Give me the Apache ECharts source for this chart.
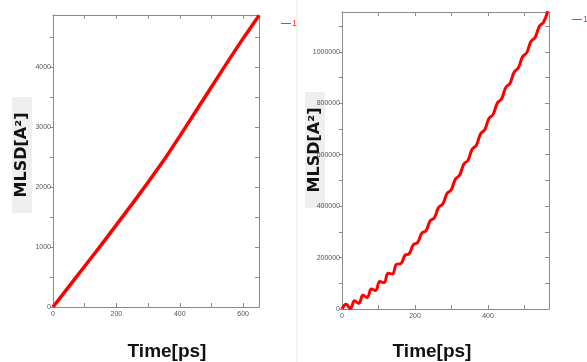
<!DOCTYPE html>
<html><head><meta charset="utf-8">
<script src="https://cdn.jsdelivr.net/npm/echarts@6/dist/echarts.min.js"></script>
<style>html,body{margin:0;padding:0;background:#fff}#c{width:587px;height:362px}</style>
</head><body><div id="c"></div>
<script>
// Left panel: MLSD vs time
const leftTime = [0, 50, 100, 150, 200, 250, 300, 350, 400, 450, 500, 550, 600, 650];
const leftMsd  = [0, 340, 680, 1020, 1370, 1720, 2080, 2450, 2850, 3260, 3670, 4080, 4480, 4860];
// Right panel: MLSD vs time (oscillating)
const rightTime = [0, 11.5, 23, 34.5, 46, 57.5, 69, 80.5, 92, 103.5, 115, 126.5, 138, 149.5, 161, 172.5, 184, 195.5, 207, 218.5, 230, 241.5, 253, 264.5, 276, 287.5, 299, 310.5, 322, 333.5, 345, 356.5, 368, 379.5, 391, 402.5, 414, 425.5, 437, 448.5, 460, 471.5, 483, 494.5, 506, 517.5, 529, 540.5, 552, 563.5];
const rightMsd = [0, 18000, 2000, 32000, 22000, 53000, 45000, 78000, 72000, 107000, 102000, 139000, 136000, 174000, 176000, 209000, 215000, 250000, 258000, 295000, 304000, 343000, 355000, 395000, 408000, 449000, 463000, 505000, 520000, 563000, 578000, 621000, 637000, 681000, 697000, 741000, 757000, 801000, 817000, 861000, 877000, 921000, 937000, 981000, 997000, 1040000, 1056000, 1099000, 1115000, 1158000];
const leftXTicks = [0, 200, 400, 600];
const leftYTicks = [0, 1000, 2000, 3000, 4000];
const rightXTicks = [0, 200, 400];
const rightYTicks = [0, 200000, 400000, 600000, 800000, 1000000];
const seriesName = '1';
const xTitle = 'Time[ps]';
const yTitle = 'MLSD[A\u00b2]';

const chart = echarts.init(document.getElementById('c'), null, {renderer: 'canvas'});
const axisCol = '#8a8a8a';
const lbl = {fontSize: 7, color: '#555', fontFamily: 'Liberation Sans'};
function fmt(list){ return v => list.indexOf(v) >= 0 ? String(v) : ''; }
function xAx(grid, max, ticks, pos){
  const bottom = pos === 'bottom';
  return {type:'value', gridIndex:grid, min:0, max:max, interval:100, position:pos,
    axisLine:{show:true, onZero:false, lineStyle:{color:axisCol, width:1}},
    axisTick:{show:true, inside:true, length:4, lineStyle:{color:axisCol}},
    axisLabel:{show:bottom, margin:4, formatter: fmt(ticks), ...lbl, showMaxLabel:false},
    splitLine:{show:false}};
}
function yAx(grid, max, interval, ticks, pos){
  const left = pos === 'left';
  return {type:'value', gridIndex:grid, min:0, max:max, interval:interval, position:pos,
    axisLine:{show:true, onZero:false, lineStyle:{color:axisCol, width:1}},
    axisTick:{show:true, inside:!left, length:left?3:4, lineStyle:{color:axisCol}},
    axisLabel:{show:left, margin:2, formatter: fmt(ticks), ...lbl, showMaxLabel:false},
    splitLine:{show:false}};
}
const option = {
  animation:false,
  backgroundColor:'#fff',
  grid:[{left:53, right:328, top:15, bottom:55}, {left:342, right:38, top:12, bottom:53}],
  xAxis:[xAx(0,650,leftXTicks,'bottom'), xAx(0,650,leftXTicks,'top'),
         xAx(1,567,rightXTicks,'bottom'), xAx(1,567,rightXTicks,'top')],
  yAxis:[yAx(0,4870,500,leftYTicks,'left'), yAx(0,4870,500,leftYTicks,'right'),
         yAx(1,1155000,100000,rightYTicks,'left'), yAx(1,1155000,100000,rightYTicks,'right')],
  legend:[
    {left:276, top:14, itemWidth:10, itemHeight:8, itemGap:2, data:[{name:seriesName, icon:'path://M0,4 L10,4 L10,5 L0,5 Z'}], textStyle:{color:'#f33', fontSize:9, padding:[0,0,0,-4]}, selectedMode:false},
    {left:567, top:10, itemWidth:10, itemHeight:8, itemGap:2, data:[{name:seriesName, icon:'path://M0,4 L10,4 L10,5 L0,5 Z'}], textStyle:{color:'#f33', fontSize:9, padding:[0,0,0,-4]}, selectedMode:false}
  ],
  series:[
    {name:seriesName, type:'line', xAxisIndex:0, yAxisIndex:0, showSymbol:false, symbol:'none',
     data: leftTime.map((t,i)=>[t, leftMsd[i]]), lineStyle:{color:'#ff0000', width:3.5}, itemStyle:{color:'#ff3333'}, smooth:0.2},
    {name:seriesName, type:'line', xAxisIndex:2, yAxisIndex:2, showSymbol:false, symbol:'none',
     data: rightTime.map((t,i)=>[t, rightMsd[i]]), lineStyle:{color:'#ff0000', width:3}, itemStyle:{color:'#ff3333'}, smooth:0.4}
  ],
  graphic:[
    {type:'line', shape:{x1:297, y1:0, x2:297, y2:362}, style:{stroke:'#e6ecf2', lineWidth:1}, silent:true},
    {type:'rect', shape:{x:12, y:97, width:20, height:116}, style:{fill:'#efefef'}, silent:true},
    {type:'text', x:22, y:155, rotation:Math.PI/2, style:{text:yTitle, fontSize:16, fontWeight:'bold', fontFamily:'DejaVu Sans', fill:'#111', align:'center', verticalAlign:'middle'}},
    {type:'rect', shape:{x:305, y:92, width:20, height:116}, style:{fill:'#efefef'}, silent:true},
    {type:'text', x:315, y:150, rotation:Math.PI/2, style:{text:yTitle, fontSize:16, fontWeight:'bold', fontFamily:'DejaVu Sans', fill:'#111', align:'center', verticalAlign:'middle'}},
    {type:'text', x:167, y:352, style:{text:xTitle, fontSize:19, fontWeight:'bold', fontFamily:'Liberation Sans', fill:'#111', align:'center', verticalAlign:'middle'}},
    {type:'text', x:432, y:352, style:{text:xTitle, fontSize:19, fontWeight:'bold', fontFamily:'Liberation Sans', fill:'#111', align:'center', verticalAlign:'middle'}}
  ]
};
chart.setOption(option);
</script></body></html>
